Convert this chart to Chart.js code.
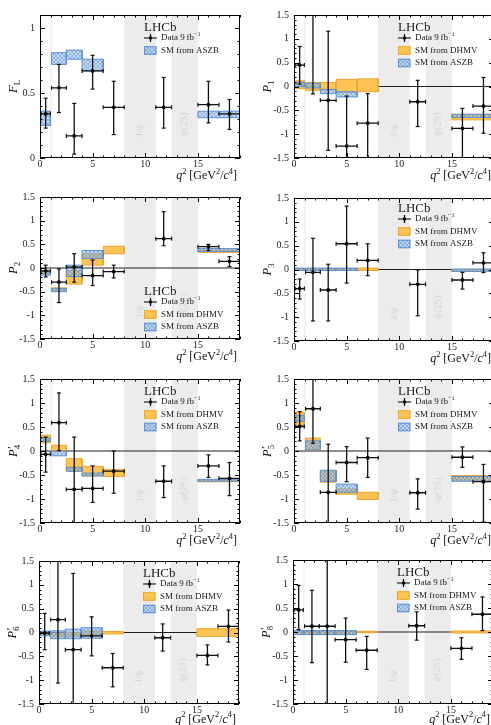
<!DOCTYPE html>
<html>
<head>
<meta charset="utf-8">
<script src="https://cdn.jsdelivr.net/npm/chart.js@4.4.1/dist/chart.umd.min.js"></script>
<style>
  html, body { margin: 0; padding: 0; background: #fff; width: 491px; height: 725px; overflow: hidden; position: relative; }
  canvas { position: absolute; }
</style>
</head>
<body>
<script>
// ---- q² binning of the measurement -------------------------------------
const binLow    = [0.1, 1.1, 2.5, 4, 6, 11, 15, 17];
const binHigh   = [0.98, 2.5, 4, 6, 8, 12.5, 17, 19];
const binCentre = [0.54, 1.8, 3.25, 5, 7, 11.75, 16, 18];

// ---- binning of the SM predictions --------------------------------------
const smLow  = [0.1, 1.1, 2.5, 4, 6, 15];
const smHigh = [0.98, 2.5, 4, 6, 8, 19];

// ---- vetoed charmonium regions --------------------------------------------
const vetoLow    = [0.98, 8, 12.5];
const vetoHigh   = [1.1, 11, 15];
const vetoLabels = [null, 'J/ψ', 'ψ(2S)'];

// ---- tick labels -----------------------------------------------------------
const xTickValues  = [0, 5, 10, 15];
const yTicksFL     = [0, 0.5, 1];
const yTicksP      = [-1.5, -1, -0.5, 0, 0.5, 1, 1.5];

// ---- measurements: central value, upper and lower end of the error bar ----
const FL_val = [0.34, 0.54, 0.17, 0.67, 0.39, 0.39, 0.41, 0.34];
const FL_up  = [0.46, 0.72, 0.42, 0.79, 0.59, 0.62, 0.59, 0.45];
const FL_dn  = [0.23, 0.35, 0.03, 0.53, 0.18, 0.23, 0.27, 0.22];

const P1_val = [0.45, 1.65, -0.29, -1.25, -0.77, -0.32, -0.88, -0.41];
const P1_up  = [0.84, 2.8, 1.16, -0.20, -0.15, 0.13, -0.46, 0.19];
const P1_dn  = [0.05, -0.155, -1.34, -2.2, -1.49, -0.84, -1.55, -0.98];

const P2_val = [-0.06, -0.30, 0.02, -0.16, -0.075, 0.62, 0.45, 0.14];
const P2_up  = [0.06, -0.02, 0.30, 0.17, 0.06, 1.19, 0.50, 0.24];
const P2_dn  = [-0.19, -0.73, -0.30, -0.37, -0.21, 0.47, 0.37, 0.03];

const P3_val = [-0.40, -0.06, -0.43, 0.54, 0.19, -0.31, -0.22, 0.14];
const P3_up  = [-0.20, 0.655, 0.11, 1.33, 0.54, -0.01, -0.06, 0.35];
const P3_dn  = [-0.62, -1.08, -1.08, -0.285, -0.13, -0.97, -0.41, -0.065];

const P4p_val = [-0.07, 0.59, -0.80, -0.78, -0.42, -0.63, -0.31, -0.57];
const P4p_up  = [0.29, 1.21, 0.29, -0.31, 0.0, -0.31, -0.08, -0.24];
const P4p_dn  = [-0.44, 0.01, -1.8, -1.07, -0.88, -0.97, -0.55, -0.93];

const P5p_val = [0.51, 0.88, -0.86, -0.24, -0.14, -0.87, -0.13, -0.64];
const P5p_up  = [0.82, 1.8, 0.14, 0.09, 0.27, -0.58, 0.085, -0.28];
const P5p_dn  = [0.21, 0.16, -1.8, -0.64, -0.55, -1.21, -0.34, -1.48];

const P6p_val = [-0.01, 0.27, -0.36, -0.07, -0.74, -0.11, -0.48, 0.13];
const P6p_up  = [0.40, 1.6, 1.24, 0.33, -0.44, 0.18, -0.26, 0.47];
const P6p_dn  = [-0.36, -1.06, -1.8, -0.49, -1.14, -0.39, -0.68, -0.20];

const P8p_val = [0.46, 0.12, 0.12, -0.16, -0.38, 0.13, -0.34, 0.37];
const P8p_up  = [0.97, 0.87, 1.9, 0.29, -0.09, 0.42, -0.12, 0.73];
const P8p_dn  = [0.05, -0.64, -1.9, -0.63, -0.78, -0.17, -0.57, 0.03];

// ---- SM predictions, [low, high] per SM bin (null: not provided) ----------
const FL_ASZB  = [[0.25, 0.36], [0.72, 0.81], [0.76, 0.83], [0.67, 0.76], null, [0.31, 0.36]];

const P1_DHMV  = [[-0.045, 0.12], [-0.08, 0.085], [-0.07, 0.085], [-0.12, 0.15], [-0.11, 0.16], [-0.70, -0.59]];
const P1_ASZB  = [[0.0, 0.09], [-0.03, 0.07], [-0.15, -0.06], [-0.22, -0.11], null, [-0.65, -0.58]];

const P2_DHMV  = [[-0.12, -0.06], [-0.48, -0.42], [-0.34, -0.06], [0.06, 0.30], [0.30, 0.46], [0.33, 0.38]];
const P2_ASZB  = [[-0.15, -0.07], [-0.50, -0.43], [-0.18, 0.06], [0.20, 0.37], null, [0.35, 0.41]];

const P3_DHMV  = [[-0.01, 0.02], [-0.01, 0.02], [-0.01, 0.02], [-0.01, 0.02], [-0.02, 0.03], [-0.04, 0.0]];
const P3_ASZB  = [[-0.02, 0.03], [-0.02, 0.03], [-0.02, 0.03], [-0.02, 0.03], null, [-0.04, 0.01]];

const P4p_DHMV = [[0.17, 0.33], [0.0, 0.12], [-0.42, -0.16], [-0.52, -0.32], [-0.53, -0.39], [-0.64, -0.60]];
const P4p_ASZB = [[0.20, 0.27], [-0.10, 0.0], [-0.42, -0.34], [-0.52, -0.46], null, [-0.63, -0.59]];

const P5p_DHMV = [[0.53, 0.81], [0.02, 0.27], [-0.65, -0.42], [-0.90, -0.79], [-1.01, -0.86], [-0.61, -0.51]];
const P5p_ASZB = [[0.62, 0.74], [0.02, 0.21], [-0.63, -0.40], [-0.86, -0.69], null, [-0.63, -0.53]];

const P6p_DHMV = [[-0.05, 0.01], [-0.08, -0.015], [-0.08, 0.0], [-0.06, 0.03], [-0.03, 0.02], [-0.08, 0.08]];
const P6p_ASZB = [[-0.07, 0.03], [-0.13, 0.035], [-0.13, 0.07], [-0.12, 0.10], null, null];

const P8p_DHMV = [[-0.04, 0.0], [-0.04, 0.0], [-0.04, 0.0], [-0.04, 0.0], [-0.015, 0.015], [-0.02, 0.02]];
const P8p_ASZB = [[-0.055, 0.03], [-0.055, 0.03], [-0.055, 0.03], [-0.055, 0.03], null, null];

// ---- styling ---------------------------------------------------------------
const FONT = "'Liberation Serif', 'DejaVu Serif', serif";
const ORANGE_FILL = 'rgb(252, 196, 84)';
const ORANGE_LINE = 'rgb(238, 166, 44)';
const BLUE_LINE   = 'rgb(92, 145, 210)';
const BAND_FILL   = '#ececec';

function hatchPattern() {
  const c = document.createElement('canvas');
  c.width = 4; c.height = 4;
  const g = c.getContext('2d');
  g.fillStyle = 'rgba(150, 193, 240, 0.55)';
  g.fillRect(0, 0, 4, 4);
  g.fillStyle = 'rgba(70, 120, 195, 0.42)';
  for (let i = 0; i < 4; i++) { g.fillRect(i, i, 1, 1); g.fillRect(3 - i, i, 1, 1); }
  return g.createPattern(c, 'repeat');
}
const BLUE_HATCH = hatchPattern();

// ---- panel layout (plot-area edges in page pixels) --------------------------
const PRIME = { t: '′', prime: 1, keep: 1 };
const panels = [
  { L: 40,  T: 12,  B: 158, yMin: 0,    yMax: 1.1, yTicks: yTicksFL, zero: false, legendDy: 13, titleDy: 18,
    sym: [{ t: 'F', it: 1 }, { t: 'L', sub: 1 }], val: FL_val, up: FL_up, dn: FL_dn, dhmv: null, aszb: FL_ASZB },
  { L: 294, T: 12,  B: 158, yMin: -1.5, yMax: 1.5, yTicks: yTicksP, zero: true, legendDy: 13, titleDy: 18,
    sym: [{ t: 'P', it: 1 }, { t: '1', sub: 1 }], val: P1_val, up: P1_up, dn: P1_dn, dhmv: P1_DHMV, aszb: P1_ASZB },
  { L: 40,  T: 194, B: 339, yMin: -1.5, yMax: 1.5, yTicks: yTicksP, zero: true, legendDy: 95, titleDy: 18,
    sym: [{ t: 'P', it: 1 }, { t: '2', sub: 1 }], val: P2_val, up: P2_up, dn: P2_dn, dhmv: P2_DHMV, aszb: P2_ASZB },
  { L: 294, T: 195, B: 341, yMin: -1.5, yMax: 1.5, yTicks: yTicksP, zero: true, legendDy: 11, titleDy: 18,
    sym: [{ t: 'P', it: 1 }, { t: '3', sub: 1 }], val: P3_val, up: P3_up, dn: P3_dn, dhmv: P3_DHMV, aszb: P3_ASZB },
  { L: 40,  T: 376, B: 523, yMin: -1.5, yMax: 1.5, yTicks: yTicksP, zero: true, legendDy: 13, titleDy: 18,
    sym: [{ t: 'P', it: 1 }, PRIME, { t: '4', sub: 1 }], val: P4p_val, up: P4p_up, dn: P4p_dn, dhmv: P4p_DHMV, aszb: P4p_ASZB },
  { L: 294, T: 376, B: 523, yMin: -1.5, yMax: 1.5, yTicks: yTicksP, zero: true, legendDy: 13, titleDy: 18,
    sym: [{ t: 'P', it: 1 }, PRIME, { t: '5', sub: 1 }], val: P5p_val, up: P5p_up, dn: P5p_dn, dhmv: P5p_DHMV, aszb: P5p_ASZB },
  { L: 39,  T: 558, B: 704, yMin: -1.5, yMax: 1.5, yTicks: yTicksP, zero: true, legendDy: 13, titleDy: 15.5,
    sym: [{ t: 'P', it: 1 }, PRIME, { t: '6', sub: 1 }], val: P6p_val, up: P6p_up, dn: P6p_dn, dhmv: P6p_DHMV, aszb: P6p_ASZB },
  { L: 293, T: 557, B: 704, yMin: -1.5, yMax: 1.5, yTicks: yTicksP, zero: true, legendDy: 13, titleDy: 15.5,
    sym: [{ t: 'P', it: 1 }, PRIME, { t: '8', sub: 1 }], val: P8p_val, up: P8p_up, dn: P8p_dn, dhmv: P8p_DHMV, aszb: P8p_ASZB },
];

const Q2_TITLE = [{ t: 'q', it: 1 }, { t: '2', sup: 1 }, { t: ' [GeV' }, { t: '2', sup: 1 }, { t: '/' },
                  { t: 'c', it: 1 }, { t: '4', sup: 1 }, { t: ']' }];
const DATA_LABEL = [{ t: 'Data 9\u2009fb' }, { t: '−1', sup: 1 }];

// ---- helpers turning the arrays into line-dataset points --------------------
function boxOutline(pairs, closed) {
  const pts = [];
  pairs.forEach((p, i) => {
    if (!p) return;
    const x0 = smLow[i], x1 = smHigh[i];
    pts.push({ x: x0, y: p[0] }, { x: x0, y: p[1] }, { x: x1, y: p[1] }, { x: x1, y: p[0] });
    if (closed) pts.push({ x: x0, y: p[0] });
    pts.push({ x: x1, y: null });
  });
  return pts;
}

function vetoBands(lo, hi) {
  const pts = [];
  vetoLow.forEach((a, i) => {
    const b = vetoHigh[i];
    pts.push({ x: a, y: lo }, { x: a, y: hi }, { x: b, y: hi }, { x: b, y: lo }, { x: b, y: null });
  });
  return pts;
}

function errorBars(val, up, dn) {
  const pts = [];
  val.forEach((v, i) => {
    const c = binCentre[i];
    pts.push({ x: c, y: dn[i], rot: 0 }, { x: c, y: up[i], rot: 0 }, { x: c, y: null });
    pts.push({ x: binLow[i], y: v, rot: 90 }, { x: binHigh[i], y: v, rot: 90 }, { x: binHigh[i], y: null });
  });
  return pts;
}

// ---- text drawing with sub/superscripts ---------------------------------------
function runFont(r, size) {
  const s = r.prime ? size * 0.9 : ((r.sup || r.sub) ? size * 0.7 : size);
  return (r.it ? 'italic ' : '') + s + 'px ' + FONT;
}
function runsWidth(ctx, runs, size) {
  let w = 0;
  runs.forEach(r => { ctx.font = runFont(r, size); if (!r.keep) w += ctx.measureText(r.t).width; });
  return w;
}
function drawRuns(ctx, runs, x, y, size) {
  runs.forEach(r => {
    ctx.font = runFont(r, size);
    const dy = r.prime ? -size * 0.12 : (r.sup ? -size * 0.38 : (r.sub ? size * 0.28 : 0));
    ctx.fillText(r.t, x + (r.prime ? 0.5 : 0), y + dy);
    if (!r.keep) x += ctx.measureText(r.t).width;
  });
}

// ---- per-panel decorations: frame, inner ticks, labels, legend ------------------
function makeDecor(p) {
  return {
    id: 'decor',
    afterDatasetDraw(chart, args) {
      if (args.index !== 0) return;
      const { ctx, chartArea: a, scales: { x } } = chart;
      ctx.save();
      ctx.beginPath(); ctx.rect(a.left, a.top, a.right - a.left, a.bottom - a.top); ctx.clip();
      ctx.fillStyle = '#d4d4d4';
      ctx.font = '10px ' + FONT;
      ctx.textAlign = 'left'; ctx.textBaseline = 'middle';
      vetoLabels.forEach((lab, i) => {
        if (!lab) return;
        const cx = x.getPixelForValue((vetoLow[i] + vetoHigh[i]) / 2);
        ctx.save();
        ctx.translate(cx, a.bottom - (i === 1 ? 21 : 22));
        ctx.rotate(-Math.PI / 2);
        ctx.fillText(lab, 0, 0);
        ctx.restore();
      });
      ctx.restore();
    },
    afterDatasetsDraw(chart) {
      const { ctx, chartArea: a, scales: { x, y } } = chart;
      ctx.save();
      ctx.strokeStyle = '#000';
      ctx.lineWidth = 1;
      ctx.beginPath();
      for (let i = 0; i <= 19; i++) {
        const px = Math.round(x.getPixelForValue(i)) + 0.5;
        const len = i % 5 === 0 ? 5 : 2.5;
        ctx.moveTo(px, a.bottom); ctx.lineTo(px, a.bottom - len);
        ctx.moveTo(px, a.top);    ctx.lineTo(px, a.top + len);
      }
      const n = Math.round((p.yMax - p.yMin) * 10);
      for (let k = 0; k <= n; k++) {
        const v = p.yMin + k / 10;
        const py = Math.round(y.getPixelForValue(v)) + 0.5;
        const len = (k % 5 === 0) ? 5 : 2.5;
        ctx.moveTo(a.left, py);  ctx.lineTo(a.left + len, py);
        ctx.moveTo(a.right, py); ctx.lineTo(a.right - len, py);
      }
      ctx.stroke();
      ctx.strokeRect(a.left + 0.5, a.top + 0.5, a.right - a.left - 1, a.bottom - a.top - 1);
      ctx.restore();
    },
    afterDraw(chart) {
      const { ctx, chartArea: a } = chart;
      ctx.save();
      ctx.fillStyle = '#111';
      ctx.textBaseline = 'middle';
      ctx.textAlign = 'left';

      // x-axis title, right aligned
      const tw = runsWidth(ctx, Q2_TITLE, 12);
      drawRuns(ctx, Q2_TITLE, a.right - 3 - tw, a.bottom + p.titleDy, 12);

      // y-axis title, rotated
      ctx.save();
      ctx.translate(a.left - 26, (a.top + a.bottom) / 2);
      ctx.rotate(-Math.PI / 2);
      const sw = runsWidth(ctx, p.sym, 12.5);
      drawRuns(ctx, p.sym, -sw / 2, 0, 12.5);
      ctx.restore();

      // legend
      const lx = a.left + 104, ly = a.top + p.legendDy;
      ctx.fillStyle = '#1a1a1a';
      ctx.font = '13px ' + FONT;
      ctx.fillText('LHCb', lx, ly);
      let ry = ly + 10;
      ctx.strokeStyle = '#000'; ctx.lineWidth = 1.2;
      ctx.beginPath();
      ctx.moveTo(lx, ry); ctx.lineTo(lx + 13, ry);
      ctx.moveTo(lx + 6.5, ry - 4); ctx.lineTo(lx + 6.5, ry + 4);
      ctx.stroke();
      ctx.beginPath(); ctx.arc(lx + 6.5, ry, 1.7, 0, 2 * Math.PI); ctx.fillStyle = '#000'; ctx.fill();
      ctx.fillStyle = '#1a1a1a';
      drawRuns(ctx, DATA_LABEL, lx + 17, ry, 9);
      ry += 12.5;
      ctx.lineWidth = 1;
      if (p.dhmv) {
        ctx.fillStyle = ORANGE_FILL; ctx.fillRect(lx, ry - 4.25, 12.5, 8.5);
        ctx.strokeStyle = ORANGE_LINE; ctx.strokeRect(lx + 0.5, ry - 3.75, 11.5, 7.5);
        ctx.fillStyle = '#1a1a1a'; ctx.font = '9px ' + FONT; ctx.fillText('SM from DHMV', lx + 17, ry);
        ry += 12.5;
      }
      if (p.aszb) {
        ctx.fillStyle = BLUE_HATCH; ctx.fillRect(lx, ry - 4.25, 12.5, 8.5);
        ctx.strokeStyle = BLUE_LINE; ctx.strokeRect(lx + 0.5, ry - 3.75, 11.5, 7.5);
        ctx.fillStyle = '#1a1a1a'; ctx.font = '9px ' + FONT; ctx.fillText('SM from ASZB', lx + 17, ry);
      }
      ctx.restore();
    }
  };
}

// ---- build the eight panels -------------------------------------------------
const PAD_TOP = 8, PAD_RIGHT = 6, X_AXIS_H = 26, PLOT_W = 200;

panels.forEach(p => {
  const left = p.L < 200 ? 0 : 245;
  const yw = p.L - left;
  const cv = document.createElement('canvas');
  cv.width = yw + PLOT_W + PAD_RIGHT;
  cv.height = PAD_TOP + (p.B - p.T) + X_AXIS_H;
  cv.style.left = left + 'px';
  cv.style.top = (p.T - PAD_TOP) + 'px';
  document.body.appendChild(cv);

  const none = { pointRadius: 0, pointHoverRadius: 0, tension: 0 };
  const datasets = [];
  datasets.push({ ...none, data: vetoBands(p.yMin - 1, p.yMax + 1), fill: 'shape',
                  backgroundColor: BAND_FILL, borderColor: 'transparent', borderWidth: 0, order: 10 });
  if (p.zero) {
    datasets.push({ ...none, data: [{ x: 0, y: 0 }, { x: 19, y: 0 }], fill: false,
                    borderColor: '#1e1e1e', borderWidth: 1, order: 9 });
  }
  if (p.dhmv) {
    datasets.push({ ...none, data: boxOutline(p.dhmv, false), fill: 'shape',
                    backgroundColor: ORANGE_FILL, borderColor: 'transparent', borderWidth: 0, order: 8 });
    datasets.push({ ...none, data: boxOutline(p.dhmv, true), fill: false,
                    borderColor: ORANGE_LINE, borderWidth: 1, order: 7 });
  }
  if (p.aszb) {
    datasets.push({ ...none, data: boxOutline(p.aszb, false), fill: 'shape',
                    backgroundColor: BLUE_HATCH, borderColor: 'transparent', borderWidth: 0, order: 6 });
    datasets.push({ ...none, data: boxOutline(p.aszb, true), fill: false,
                    borderColor: BLUE_LINE, borderWidth: 1, order: 5 });
  }
  datasets.push({
    data: errorBars(p.val, p.up, p.dn), fill: false, tension: 0,
    borderColor: '#111', borderWidth: 1.3,
    pointStyle: 'line', pointRadius: 2, pointHoverRadius: 2,
    pointRotation: ctx => (ctx.raw && ctx.raw.rot) || 0,
    pointBorderColor: '#111', pointBorderWidth: 1.2, order: 1
  });
  datasets.push({
    data: p.val.map((v, i) => ({ x: binCentre[i], y: v })), showLine: false,
    pointStyle: 'circle', pointRadius: 1.9, pointHoverRadius: 1.9,
    pointBackgroundColor: '#000', pointBorderWidth: 0, order: 0
  });

  new Chart(cv.getContext('2d'), {
    type: 'line',
    data: { datasets },
    options: {
      responsive: false, animation: false, events: [], devicePixelRatio: 1,
      layout: { padding: { top: PAD_TOP, right: PAD_RIGHT, left: 0, bottom: 0 } },
      plugins: { legend: { display: false }, tooltip: { enabled: false } },
      scales: {
        x: {
          type: 'linear', min: 0, max: 19,
          afterFit: s => { s.height = X_AXIS_H; },
          afterBuildTicks: s => { s.ticks = xTickValues.map(v => ({ value: v })); },
          grid: { display: false, drawTicks: false }, border: { display: false },
          ticks: { padding: 0, maxRotation: 0, autoSkip: false, color: '#222', font: { family: FONT, size: 10 } }
        },
        y: {
          type: 'linear', min: p.yMin, max: p.yMax,
          afterFit: s => { s.width = yw; },
          afterBuildTicks: s => { s.ticks = p.yTicks.map(v => ({ value: v })); },
          grid: { display: false, drawTicks: false }, border: { display: false },
          ticks: { padding: 5, autoSkip: false, color: '#222', font: { family: FONT, size: 10 },
                   callback: v => String(v) }
        }
      }
    },
    plugins: [makeDecor(p)]
  });
});
</script>
</body>
</html>
